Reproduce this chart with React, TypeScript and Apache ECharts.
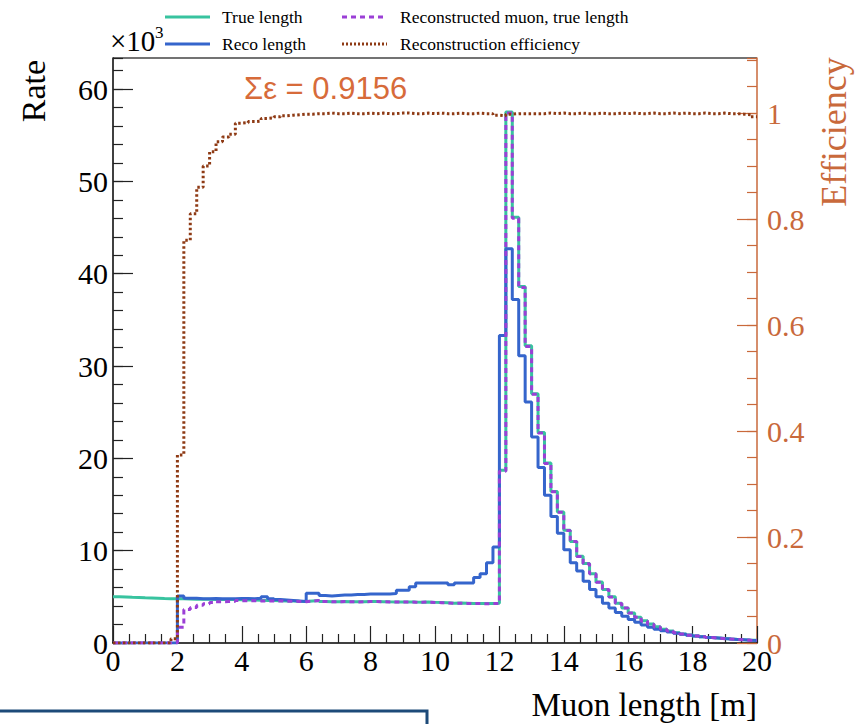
import React, { useEffect, useRef } from 'react';
import * as echarts from 'echarts';

// ---- Binning (0.2 m bins from 0 to 20 m) ----
const BIN_WIDTH = 0.2;
const X_MIN = 0;
const X_MAX = 20;

// ---- Series values (rate in units of 10^3 per 0.2 m bin) ----
const trueLength = [
  5.0, 4.98, 4.95, 4.93, 4.9, 4.88, 4.85, 4.82, 4.8, 4.78,
  4.78, 4.76, 4.75, 4.74, 4.73, 4.72, 4.72, 4.7, 4.7, 4.68,
  4.65, 4.65, 4.62, 4.6, 4.6, 4.58, 4.55, 4.55, 4.52, 4.5,
  4.55, 4.6, 4.5, 4.48, 4.48, 4.5, 4.48, 4.46, 4.48, 4.5,
  4.5, 4.48, 4.46, 4.45, 4.44, 4.45, 4.43, 4.42, 4.45, 4.4,
  4.38, 4.35, 4.3, 4.32, 4.3, 4.28, 4.28, 4.27, 4.28, 4.3,
  18.7, 57.5, 46.1, 38.6, 32.2, 27.0, 22.8, 19.5, 16.4, 14.2,
  12.2, 11.0, 9.4, 8.6, 7.5, 6.6, 5.8, 5.0, 4.3, 3.8,
  3.25, 2.8, 2.4, 2.05, 1.75, 1.5, 1.3, 1.12, 0.98, 0.86,
  0.76, 0.68, 0.6, 0.54, 0.48, 0.43, 0.39, 0.35, 0.32, 0.3,
];

const recoLength = [
  0, 0, 0, 0, 0, 0, 0, 0, 0, 0,
  5.1, 4.85, 4.85, 4.8, 4.8, 4.82, 4.8, 4.8, 4.8, 4.82,
  4.82, 4.8, 4.85, 5.0, 4.8, 4.7, 4.65, 4.6, 4.55, 4.5,
  5.4, 5.4, 5.15, 5.1, 5.15, 5.2, 5.2, 5.25, 5.25, 5.3,
  5.3, 5.3, 5.32, 5.35, 5.7, 5.7, 6.1, 6.5, 6.5, 6.5,
  6.5, 6.5, 6.3, 6.5, 6.5, 6.5, 7.1, 7.5, 8.7, 10.4,
  33.3, 42.7, 37.2, 31.1, 26.1, 22.3, 19.0, 16.0, 13.7, 11.9,
  10.1, 8.7, 7.8, 6.7, 5.8, 5.0, 4.3, 3.8, 3.3, 2.9,
  2.55, 2.25, 1.95, 1.7, 1.5, 1.32, 1.18, 1.05, 0.95, 0.85,
  0.76, 0.68, 0.6, 0.54, 0.48, 0.43, 0.39, 0.35, 0.31, 0.28,
];

const recoMuonTrueLength = [
  0, 0, 0, 0, 0, 0, 0, 0, 0, 0.04,
  1.7, 3.62, 3.85, 4.08, 4.26, 4.38, 4.47, 4.49, 4.51, 4.59,
  4.58, 4.58, 4.56, 4.55, 4.56, 4.55, 4.53, 4.53, 4.5, 4.48,
  4.54, 4.59, 4.5, 4.47, 4.47, 4.49, 4.47, 4.45, 4.47, 4.49,
  4.49, 4.47, 4.45, 4.44, 4.43, 4.44, 4.42, 4.41, 4.44, 4.39,
  4.37, 4.34, 4.29, 4.31, 4.29, 4.27, 4.27, 4.26, 4.27, 4.28,
  18.6, 57.4, 46.0, 38.5, 32.1, 26.95, 22.75, 19.45, 16.37, 14.17,
  12.18, 10.98, 9.38, 8.58, 7.49, 6.59, 5.79, 4.99, 4.29, 3.79,
  3.24, 2.79, 2.39, 2.04, 1.74, 1.49, 1.29, 1.11, 0.97, 0.85,
  0.75, 0.67, 0.59, 0.53, 0.47, 0.42, 0.38, 0.34, 0.31, 0.29,
];

const efficiency = [
  0, 0, 0, 0, 0, 0, 0, 0, 0, 0.008,
  0.355, 0.76, 0.81, 0.86, 0.9, 0.927, 0.946, 0.955, 0.96, 0.981,
  0.982, 0.984, 0.985, 0.99, 0.991, 0.993, 0.995, 0.996, 0.997, 0.998,
  0.998, 0.999, 0.999, 1.0, 0.999, 0.999, 1.0, 0.999, 0.999, 1.0,
  0.999, 1.0, 0.999, 0.999, 1.0, 1.0, 0.999, 0.999, 1.0, 0.999,
  1.0, 0.999, 0.999, 1.0, 0.999, 0.999, 1.0, 0.999, 0.999, 0.996,
  0.995, 0.998, 0.999, 0.999, 0.999, 0.999, 0.999, 1.0, 0.999, 1.0,
  0.999, 0.999, 1.0, 0.999, 0.999, 1.0, 0.999, 0.999, 1.0, 0.999,
  1.0, 0.999, 0.999, 1.0, 0.999, 0.999, 1.0, 0.999, 1.0, 0.999,
  0.999, 1.0, 0.999, 0.999, 1.0, 0.999, 0.999, 0.998, 0.997, 0.993,
];

// ---- Axis definitions ----
const RATE_MAX = 63.36;       // x10^3
const EFF_MAX = 1.104;
const sumEfficiencyText = 'Σε = 0.9156';

const legendItems = [
  { name: 'True length', color: '#38c39f', dash: null as number[] | null, col: 0, row: 0 },
  { name: 'Reco length', color: '#3565cc', dash: null, col: 0, row: 1 },
  { name: 'Reconstructed muon, true length', color: '#9b3fd6', dash: [5, 4], col: 1, row: 0 },
  { name: 'Reconstruction efficiency', color: '#8e3a14', dash: [2, 2], col: 1, row: 1 },
];

const COLORS = {
  trueC: '#38c39f',
  reco: '#3565cc',
  recoTrue: '#9b3fd6',
  eff: '#8e3a14',
  orange: '#c9693b',
  sigma: '#d76b3a',
  box: '#1d4a79',
};

const SERIF = '"Liberation Serif", "Times New Roman", serif';
const SANS = '"Liberation Sans", Arial, sans-serif';

function toSteps(vals: number[]) {
  const pts: number[][] = vals.map((v, i) => [Math.round(i * BIN_WIDTH * 100) / 100, v]);
  pts.push([X_MAX, vals[vals.length - 1]]);
  return pts;
}

function txt(x: number, y: number, text: string, font: string, fill: string, align = 'left', vAlign = 'middle', rotation = 0) {
  return {
    type: 'text',
    x,
    y,
    rotation,
    silent: true,
    style: {
      text,
      x: 0,
      y: 0,
      font,
      fill,
      align,
      verticalAlign: vAlign,
      textAlign: align,
      textVerticalAlign: vAlign,
    },
  };
}

export default function App() {
  const ref = useRef<HTMLDivElement>(null);

  useEffect(() => {
    document.body.style.margin = '0';
    const chart = echarts.init(ref.current!, null, { renderer: 'svg' });

    const legendGraphics: any[] = [];
    legendItems.forEach((it) => {
      const x1 = it.col === 0 ? 165 : 342;
      const x2 = it.col === 0 ? 210 : 387;
      const tx = it.col === 0 ? 222 : 400;
      const y = it.row === 0 ? 17 : 44;
      legendGraphics.push({
        type: 'line',
        silent: true,
        shape: { x1, y1: y, x2, y2: y },
        style: { stroke: it.color, lineWidth: 3, lineDash: it.dash || undefined },
      });
      legendGraphics.push(txt(tx, y, it.name, `17.5px ${SERIF}`, '#000'));
    });

    const tickLine = { color: '#222', width: 1.2 };

    const option: any = {
      animation: false,
      backgroundColor: '#fff',
      grid: { left: 113, right: 99, top: 58, bottom: 81, containLabel: false },
      xAxis: {
        type: 'value',
        min: X_MIN,
        max: X_MAX,
        interval: 2,
        axisLine: { show: true, lineStyle: { color: '#000', width: 1.5 } },
        axisTick: { show: true, inside: true, length: 17, lineStyle: tickLine },
        minorTick: { show: true, splitNumber: 4, length: 9, lineStyle: tickLine },
        axisLabel: { fontFamily: SERIF, fontSize: 30, color: '#000', margin: 2 },
        splitLine: { show: false },
      },
      yAxis: [
        {
          type: 'value', position: 'left', min: 0, max: RATE_MAX, interval: 2,
          axisLine: { show: true, lineStyle: { color: '#000', width: 1.5 } },
          axisTick: { show: true, inside: true, length: 10, lineStyle: tickLine },
          axisLabel: { show: false },
          splitLine: { show: false },
        },
        {
          type: 'value', position: 'left', min: 0, max: RATE_MAX, interval: 10,
          axisLine: { show: false },
          axisTick: { show: true, inside: true, length: 20, lineStyle: tickLine },
          axisLabel: { fontFamily: SERIF, fontSize: 30, color: '#000', margin: 5, showMaxLabel: false },
          splitLine: { show: false },
        },
        {
          type: 'value', position: 'right', min: 0, max: EFF_MAX, interval: 0.05,
          axisLine: { show: true, lineStyle: { color: COLORS.orange, width: 1.5 } },
          axisTick: { show: true, inside: true, length: 10, lineStyle: { color: COLORS.orange, width: 1.2 } },
          axisLabel: { show: false },
          splitLine: { show: false },
        },
        {
          type: 'value', position: 'right', min: 0, max: EFF_MAX, interval: 0.2,
          axisLine: { show: false },
          axisTick: { show: true, inside: true, length: 20, lineStyle: { color: COLORS.orange, width: 1.2 } },
          axisLabel: {
            fontFamily: SERIF, fontSize: 30, color: COLORS.orange, margin: 10, showMaxLabel: false,
            formatter: (v: number) => String(Math.round(v * 10) / 10),
          },
          splitLine: { show: false },
        },
      ],
      series: [
        {
          name: 'True length', type: 'line', step: 'end', yAxisIndex: 0,
          data: toSteps(trueLength), symbol: 'none', z: 2,
          lineStyle: { color: COLORS.trueC, width: 3 },
        },
        {
          name: 'Reco length', type: 'line', step: 'end', yAxisIndex: 0,
          data: toSteps(recoLength), symbol: 'none', z: 3,
          lineStyle: { color: COLORS.reco, width: 3 },
        },
        {
          name: 'Reconstructed muon, true length', type: 'line', step: 'end', yAxisIndex: 0,
          data: toSteps(recoMuonTrueLength), symbol: 'none', z: 4,
          lineStyle: { color: COLORS.recoTrue, width: 3, type: [5, 4] },
        },
        {
          name: 'Reconstruction efficiency', type: 'line', step: 'end', yAxisIndex: 2,
          data: toSteps(efficiency), symbol: 'none', z: 5,
          lineStyle: { color: COLORS.eff, width: 3, type: [2.5, 2.5] },
        },
      ],
      graphic: [
        // top frame
        {
          type: 'line', silent: true,
          shape: { x1: 113, y1: 58, x2: 757, y2: 58 },
          style: { stroke: '#444', lineWidth: 1.5 },
        },
        ...legendGraphics,
        txt(110, 41, '×10', `29px ${SERIF}`, '#000', 'left', 'middle'),
        txt(155, 32, '3', `17px ${SERIF}`, '#000', 'left', 'middle'),
        txt(33, 91, 'Rate', `34px ${SERIF}`, '#000', 'center', 'middle', Math.PI / 2),
        txt(834, 132, 'Efficiency', `36px ${SERIF}`, COLORS.orange, 'center', 'middle', Math.PI / 2),
        txt(757, 705, 'Muon length [m]', `33px ${SERIF}`, '#000', 'right', 'middle'),
        txt(244, 88, sumEfficiencyText, `31px ${SANS}`, COLORS.sigma, 'left', 'middle'),
        {
          type: 'rect', silent: true,
          shape: { x: -3, y: 711, width: 430, height: 40 },
          style: { fill: 'none', stroke: COLORS.box, lineWidth: 3 },
        },
      ],
    };

    chart.setOption(option);
    return () => chart.dispose();
  }, []);

  return (
    <div
      ref={ref}
      style={{ position: 'absolute', left: 0, top: 0, width: 856, height: 724, background: '#fff' }}
    />
  );
}
